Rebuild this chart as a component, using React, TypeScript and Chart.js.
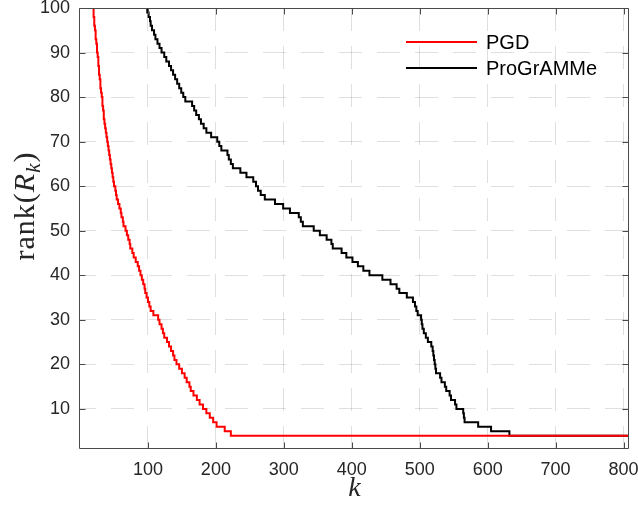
import React, { useEffect, useRef } from "react";
import { Chart, registerables } from "chart.js";

Chart.register(...registerables);

// ---- data ----
const xTicks = [100, 200, 300, 400, 500, 600, 700, 800];
const yTicks = [10, 20, 30, 40, 50, 60, 70, 80, 90, 100];
const X_MIN = 0;
const X_MAX = 808;
const Y_MIN = 1;
const Y_MAX = 100;

const seriesLabels = ["PGD", "ProGrAMMe"];
const seriesColors = ["#ff0000", "#000000"];

// PGD: k at which each rank value starts
const pgdK = [
  18, 19, 20, 20, 21, 21, 22, 23, 23, 24, 25, 25, 26, 27, 27, 28, 28, 29, 30, 30, 31,
  32, 33, 33, 34, 35, 35, 36, 37, 38, 39, 40, 41, 42, 43, 44, 45, 46, 47, 48, 49,
  50, 52, 53, 54, 56, 58, 60, 61, 63, 64, 67, 69, 71, 73, 74, 77, 79, 82, 85, 87,
  89, 91, 93, 95, 96, 98, 100, 102, 104, 108, 115, 117, 120, 122, 124, 128, 131, 134, 137, 139,
  142, 146, 150, 154, 157, 161, 163, 167, 172, 176, 181, 186, 191, 196, 201, 213, 222, 808,
];
const pgdRank = [
  101, 100, 99, 98, 97, 96, 95, 94, 93, 92, 91, 90, 89, 88, 87, 86, 85, 84, 83, 82, 81,
  80, 79, 78, 77, 76, 75, 74, 73, 72, 71, 70, 69, 68, 67, 66, 65, 64, 63, 62, 61,
  60, 59, 58, 57, 56, 55, 54, 53, 52, 51, 50, 49, 48, 47, 46, 45, 44, 43, 42, 41,
  40, 39, 38, 37, 36, 35, 34, 33, 32, 31, 30, 29, 28, 27, 26, 25, 24, 23, 22, 21,
  20, 19, 18, 17, 16, 15, 14, 13, 12, 11, 10, 9, 8, 7, 6, 5, 4, 4,
];

// ProGrAMMe: k at which each rank value starts
const progK = [
  96, 97, 99, 101, 103, 104, 106, 109, 111, 114, 117, 120, 124, 127, 131, 134, 137, 140, 143, 146, 149,
  152, 155, 165, 168, 171, 175, 178, 182, 186, 193, 202, 205, 208, 217, 219, 222, 225, 236, 245, 255,
  259, 262, 266, 272, 287, 299, 309, 322, 325, 328, 344, 353, 363, 370, 372, 385, 392, 401, 409, 417,
  426, 445, 457, 466, 470, 481, 490, 493, 495, 497, 502, 503, 504, 506, 509, 512, 517, 519, 520, 521,
  522, 523, 524, 530, 532, 537, 539, 544, 546, 552, 554, 564, 565, 566, 586, 605, 632, 808,
];
const progRank = [
  101, 100, 99, 98, 97, 96, 95, 94, 93, 92, 91, 90, 89, 88, 87, 86, 85, 84, 83, 82, 81,
  80, 79, 78, 77, 76, 75, 74, 73, 72, 71, 70, 69, 68, 67, 66, 65, 64, 63, 62, 61,
  60, 59, 58, 57, 56, 55, 54, 53, 52, 51, 50, 49, 48, 47, 46, 45, 44, 43, 42, 41,
  40, 39, 38, 37, 36, 35, 34, 33, 32, 31, 30, 29, 28, 27, 26, 25, 24, 23, 22, 21,
  20, 19, 18, 17, 16, 15, 14, 13, 12, 11, 10, 9, 8, 7, 6, 5, 4, 4,
];

const SANS = '"Liberation Sans", Arial, Helvetica, sans-serif';
const SERIF = '"Liberation Serif", "Times New Roman", serif';
const AXIS_COLOR = "#262626";
const GRID_COLOR = "rgba(38,38,38,0.15)";

const toPoints = (xs: number[], ys: number[]) => xs.map((x, i) => ({ x, y: ys[i] }));

const zeroPadding = (s: any) => {
  s.paddingLeft = 0;
  s.paddingRight = 0;
  s.paddingTop = 0;
  s.paddingBottom = 0;
};

const decorPlugin = {
  id: "decor",
  afterDraw(chart: any) {
    const { ctx, chartArea } = chart;
    const { left, right, top, bottom } = chartArea;
    const xs = chart.scales.x;
    const ys = chart.scales.y;
    ctx.save();
    // frame
    ctx.strokeStyle = "#4a4a4a";
    ctx.lineWidth = 1;
    ctx.setLineDash([]);
    const L = Math.round(left) - 0.5;
    const R = Math.round(right) - 0.5;
    const T = Math.round(top) + 0.5;
    const B = Math.round(bottom) - 0.5;
    ctx.beginPath();
    ctx.rect(L, T, R - L, B - T);
    ctx.stroke();
    // inward ticks
    const tl = 6;
    ctx.beginPath();
    for (const v of xTicks) {
      const px = Math.round(xs.getPixelForValue(v)) + 0.5;
      ctx.moveTo(px, B);
      ctx.lineTo(px, B - tl);
      ctx.moveTo(px, T);
      ctx.lineTo(px, T + tl);
    }
    for (const v of yTicks) {
      const py = Math.round(ys.getPixelForValue(v)) + 0.5;
      ctx.moveTo(L, py);
      ctx.lineTo(L + tl, py);
      ctx.moveTo(R, py);
      ctx.lineTo(R - tl, py);
    }
    ctx.stroke();

    // legend
    const lx0 = 406;
    const lx1 = 477;
    const ly = [42, 68];
    chart.data.datasets.forEach((ds: any, i: number) => {
      ctx.strokeStyle = ds.borderColor;
      ctx.lineWidth = 2;
      ctx.beginPath();
      ctx.moveTo(lx0, ly[i]);
      ctx.lineTo(lx1, ly[i]);
      ctx.stroke();
      ctx.fillStyle = "#000";
      ctx.font = `20px ${SANS}`;
      ctx.textAlign = "left";
      ctx.textBaseline = "middle";
      ctx.fillText(ds.label, 486, ly[i] + 1);
    });

    // x axis title: k (italic)
    ctx.fillStyle = AXIS_COLOR;
    ctx.font = `italic 28px ${SERIF}`;
    ctx.textAlign = "center";
    ctx.textBaseline = "alphabetic";
    ctx.fillText("k", (left + right) / 2, 496);

    // y axis title: rank(R_k)
    ctx.save();
    ctx.translate(34, 206);
    ctx.rotate(-Math.PI / 2);
    const parts = [
      { t: "rank(", f: `30px ${SERIF}`, dy: 0 },
      { t: "R", f: `italic 30px ${SERIF}`, dy: 0 },
      { t: "k", f: `italic 21px ${SERIF}`, dy: 6 },
      { t: ")", f: `30px ${SERIF}`, dy: 0 },
    ];
    const spacing = 1;
    let total = 0;
    const widths = parts.map((p) => {
      ctx.font = p.f;
      const w = ctx.measureText(p.t).width + spacing * p.t.length;
      total += w;
      return w;
    });
    let cx = -total / 2;
    ctx.textAlign = "left";
    parts.forEach((p, i) => {
      ctx.font = p.f;
      let x = cx;
      for (const ch of p.t) {
        ctx.fillText(ch, x, p.dy);
        x += ctx.measureText(ch).width + spacing;
      }
      cx += widths[i];
    });
    ctx.restore();
    ctx.restore();
  },
};

export default function App() {
  const canvasRef = useRef<HTMLCanvasElement | null>(null);

  useEffect(() => {
    if (!canvasRef.current) return;
    const chart = new Chart(canvasRef.current, {
      type: "line",
      data: {
        datasets: [
          {
            label: seriesLabels[0],
            data: toPoints(pgdK, pgdRank),
            borderColor: seriesColors[0],
            backgroundColor: seriesColors[0],
            borderWidth: 2,
            pointRadius: 0,
            stepped: "before",
            fill: false,
          },
          {
            label: seriesLabels[1],
            data: toPoints(progK, progRank),
            borderColor: seriesColors[1],
            backgroundColor: seriesColors[1],
            borderWidth: 2,
            pointRadius: 0,
            stepped: "before",
            fill: false,
          },
        ],
      },
      options: {
        animation: false,
        responsive: false,
        devicePixelRatio: 1,
        parsing: false,
        layout: { padding: { top: 8, right: 9, left: 0, bottom: 0 } },
        plugins: { legend: { display: false }, tooltip: { enabled: false } },
        scales: {
          x: {
            type: "linear",
            min: X_MIN,
            max: X_MAX,
            afterBuildTicks: (s: any) => {
              s.ticks = xTicks.map((v) => ({ value: v }));
            },
            afterFit: (s: any) => {
              s.height = 56;
              zeroPadding(s);
            },
            grid: { color: GRID_COLOR, lineWidth: 1, drawTicks: false },
            border: { display: false, dash: [23, 15], dashOffset: 0 },
            ticks: {
              padding: 10,
              color: AXIS_COLOR,
              font: { family: SANS, size: 18 },
              maxRotation: 0,
              autoSkip: false,
            },
          },
          y: {
            type: "linear",
            min: Y_MIN,
            max: Y_MAX,
            afterBuildTicks: (s: any) => {
              s.ticks = yTicks.map((v) => ({ value: v }));
            },
            afterFit: (s: any) => {
              s.width = 80;
              zeroPadding(s);
            },
            grid: { color: GRID_COLOR, lineWidth: 1, drawTicks: false },
            border: { display: false, dash: [23, 15], dashOffset: 7 },
            ticks: {
              padding: 10,
              color: AXIS_COLOR,
              font: { family: SANS, size: 18 },
              autoSkip: false,
            },
          },
        },
      },
      plugins: [decorPlugin],
    } as any);
    return () => chart.destroy();
  }, []);

  return (
    <div style={{ position: "absolute", left: 0, top: 0, width: 638, height: 505, background: "#fff" }}>
      <canvas ref={canvasRef} width={638} height={505} style={{ display: "block" }} />
    </div>
  );
}
